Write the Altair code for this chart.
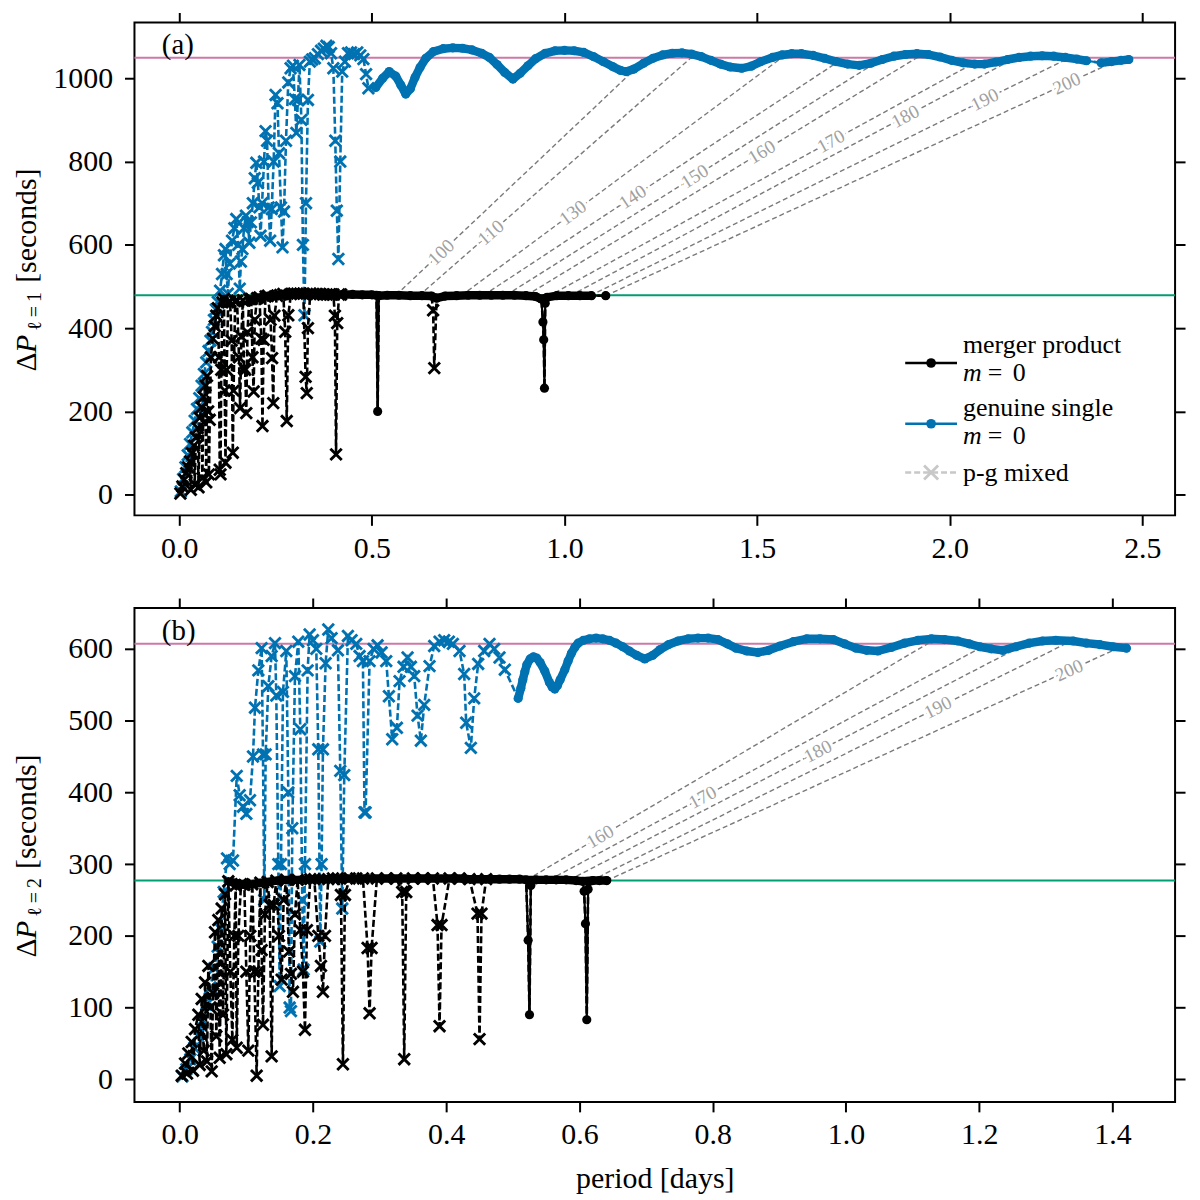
import math

import altair as alt
import pandas as pd

# ---------------- panel (a): l = 1 ----------------
# genuine single star, p-g mixed modes (crosses)
A_BLUE_X_P = [0.004, 0.010, 0.016, 0.022, 0.028, 0.034, 0.040, 0.046, 0.052, 0.058,
              0.064, 0.070, 0.076, 0.081, 0.085, 0.090, 0.095, 0.100, 0.106, 0.111,
              0.116, 0.120, 0.123, 0.126, 0.131, 0.137, 0.143, 0.148, 0.153, 0.157,
              0.160, 0.164, 0.168, 0.173, 0.178, 0.182, 0.186, 0.191, 0.196, 0.200,
              0.204, 0.208, 0.211, 0.215, 0.220, 0.224, 0.228, 0.232, 0.236, 0.240,
              0.245, 0.250, 0.255, 0.259, 0.264, 0.268, 0.272, 0.277, 0.283, 0.289,
              0.295, 0.300, 0.304, 0.308, 0.312, 0.317, 0.321, 0.325, 0.329, 0.334,
              0.339, 0.345, 0.352, 0.360, 0.368, 0.375, 0.382, 0.388, 0.394, 0.400,
              0.405, 0.409, 0.413, 0.418, 0.423, 0.430, 0.438, 0.446, 0.454, 0.462,
              0.470, 0.478, 0.485, 0.491]
A_BLUE_X_DP = [8, 38, 66, 95, 122, 150, 178, 206, 232, 262,
               290, 318, 345, 370, 391, 420, 445, 463, 490, 530,
               575, 590, 530, 483, 555, 610, 640, 662, 600, 495,
               560, 590, 640, 670, 655, 605, 654, 700, 760, 797,
               749, 690, 622, 700, 800, 873, 850, 690, 610, 686,
               800, 960, 940, 820, 690, 594, 680, 850, 990, 1024,
               1030, 950, 869, 948, 1032, 900, 600, 431, 700, 948,
               1040, 1045, 1048, 1058, 1066, 1071, 1078, 1075, 1060, 1024,
               850, 682, 566, 800, 1016, 1040, 1060, 1062, 1058, 1062,
               1055, 1046, 1010, 976]
# genuine single star, g modes (circles)
A_BLUE_G_P = [0.510, 0.528, 0.545, 0.562, 0.575, 0.588, 0.600, 0.612, 0.625, 0.640,
              0.660, 0.685, 0.710, 0.735, 0.760, 0.785, 0.805, 0.825, 0.845, 0.866,
              0.885, 0.905, 0.925, 0.950, 0.975, 1.000, 1.025, 1.050, 1.075, 1.100,
              1.125, 1.145, 1.160, 1.180, 1.205, 1.230, 1.255, 1.280, 1.305, 1.330,
              1.355, 1.380, 1.405, 1.430, 1.460, 1.485, 1.510, 1.540, 1.565, 1.590,
              1.615, 1.645, 1.675, 1.705, 1.735, 1.765, 1.795, 1.825, 1.855, 1.885,
              1.915, 1.945, 1.975, 2.005, 2.035, 2.065, 2.090, 2.120, 2.150, 2.180,
              2.210, 2.240, 2.270, 2.300, 2.330, 2.355, 2.393, 2.420, 2.445, 2.465]
A_BLUE_G_DP = [978, 1000, 1016, 1005, 984, 962, 975, 1002, 1026, 1048,
               1064, 1071, 1073, 1072, 1068, 1060, 1050, 1033, 1014, 998,
               1012, 1030, 1047, 1060, 1066, 1067, 1066, 1062, 1052, 1040,
               1028, 1019, 1016, 1022, 1036, 1048, 1056, 1060, 1061, 1058,
               1052, 1043, 1034, 1027, 1024, 1029, 1040, 1050, 1056, 1059,
               1059, 1055, 1048, 1040, 1034, 1031, 1036, 1045, 1053, 1057,
               1059, 1057, 1051, 1043, 1037, 1034, 1034, 1039, 1045, 1050,
               1053, 1054, 1053, 1050, 1046, 1042, 1037, 1040, 1043, 1045]
# merger product, p-g mixed modes
A_BLACK_X_P = [0.003, 0.008, 0.013, 0.018, 0.023, 0.028, 0.030, 0.033, 0.038, 0.040,
               0.043, 0.048, 0.050, 0.053, 0.058, 0.060, 0.063, 0.068, 0.070, 0.072,
               0.075, 0.077, 0.079, 0.082, 0.087,
               0.092, 0.096, 0.100, 0.103, 0.105, 0.107, 0.109, 0.112, 0.116, 0.118,
               0.120, 0.123, 0.127, 0.132, 0.136, 0.139, 0.141, 0.145, 0.150, 0.155,
               0.158, 0.161, 0.165, 0.168, 0.171, 0.174, 0.177, 0.182, 0.187, 0.190,
               0.193, 0.196, 0.202, 0.208, 0.213, 0.216, 0.219, 0.224, 0.230, 0.237,
               0.241, 0.244, 0.247, 0.254, 0.262, 0.270, 0.275, 0.279, 0.283, 0.290,
               0.298, 0.306, 0.314, 0.322, 0.328, 0.331, 0.334, 0.340, 0.348, 0.356,
               0.365, 0.374, 0.383, 0.392, 0.400, 0.404, 0.407, 0.410, 0.415, 0.420,
               0.659, 0.662]
A_BLACK_X_DP = [3, 20, 36, 52, 66, 80, 12, 100, 118, 25,
                138, 160, 18, 185, 210, 40, 235, 262, 30, 285,
                200, 49, 180, 330, 375,
                405, 430, 448, 330, 60, 49, 300, 462, 470, 250,
                77, 300, 462, 464, 370, 101, 250, 465, 466, 330,
                208, 380, 467, 304, 300, 196, 390, 470, 470, 330,
                248, 420, 472, 474, 375, 165, 372, 476, 478, 420,
                328, 220, 430, 478, 480, 482, 391, 177, 431, 482,
                483, 483, 483, 483, 283, 244, 400, 483, 482, 482,
                482, 481, 481, 481, 481, 430, 97, 412, 481, 481,
                443, 304]
# merger product, g modes
A_BLACK_G_P = [0.425, 0.450, 0.475, 0.500, 0.512, 0.515, 0.518, 0.540, 0.570, 0.600,
               0.630, 0.655, 0.668, 0.690, 0.720, 0.750, 0.780, 0.810, 0.840, 0.870,
               0.900, 0.925, 0.940, 0.944, 0.946, 0.948, 0.950, 0.955, 0.980, 1.010,
               1.040, 1.070, 1.107]
A_BLACK_G_DP = [481, 481, 480, 480, 479, 200, 478, 479, 479, 478,
                478, 477, 472, 477, 478, 479, 479, 479, 479, 479,
                478, 476, 470, 415, 372, 256, 460, 474, 478, 478,
                478, 478, 478]
A_ASYMPTOTE = [1049, 479]
# same radial order n on both stars
A_N = [100, 110, 130, 140, 150, 160, 170, 180, 190, 200]
A_N_P0 = [0.5625, 0.622, 0.732, 0.790, 0.848, 0.900, 0.957, 1.015, 1.067, 1.107]
A_N_DP0 = [479, 478, 478, 479, 479, 478, 476, 478, 478, 478]
A_N_P1 = [1.189, 1.338, 1.575, 1.711, 1.821, 1.930, 2.060, 2.170, 2.310, 2.430]
A_N_DP1 = [1027, 1057, 1057, 1040, 1045, 1058, 1035, 1049, 1049, 1041]
A_N_LABEL_P = [0.680, 0.809, 1.022, 1.177, 1.338, 1.512, 1.692, 1.885, 2.091, 2.304]

# ---------------- panel (b): l = 2 ----------------
B_BLUE_X_P = [0.004, 0.010, 0.016, 0.022, 0.028, 0.034, 0.040, 0.046, 0.052, 0.057,
              0.061, 0.066, 0.071, 0.075, 0.080, 0.0856, 0.090, 0.095, 0.100, 0.1055,
              0.110, 0.113, 0.118, 0.123, 0.125, 0.127, 0.129, 0.133, 0.138, 0.143,
              0.145, 0.148, 0.150, 0.152, 0.155, 0.160, 0.163, 0.165, 0.167, 0.169,
              0.173, 0.178, 0.181, 0.184, 0.186, 0.188, 0.192, 0.195, 0.200, 0.205,
              0.208, 0.211, 0.213, 0.215, 0.219, 0.223, 0.228, 0.2375, 0.241, 0.244,
              0.247, 0.2525, 0.258, 0.265, 0.270, 0.275, 0.2774, 0.279, 0.285, 0.291,
              0.297, 0.303, 0.310, 0.314, 0.319, 0.326, 0.330, 0.336, 0.342, 0.347,
              0.352, 0.357, 0.362, 0.367, 0.375, 0.382, 0.390, 0.397, 0.404, 0.410,
              0.420, 0.427, 0.430, 0.437, 0.442, 0.448, 0.457, 0.465, 0.472, 0.480,
              0.488]
B_BLUE_X_DP = [4, 14, 28, 44, 62, 82, 104, 128, 155, 185,
               210, 261, 308, 300, 305, 423, 396, 380, 370, 389,
               450, 518, 570, 601, 453, 250, 453, 548, 590, 608,
               535, 300, 130, 300, 540, 597, 400, 100, 95, 350,
               562, 610, 488, 250, 153, 300, 570, 620, 612, 600,
               460, 192, 300, 460, 580, 627, 615, 598, 430, 238,
               424, 618, 612, 607, 590, 583, 372, 372, 583, 600,
               605, 595, 583, 534, 474, 490, 555, 575, 588, 575,
               562, 507, 472, 522, 576, 604, 610, 612, 610, 607,
               597, 565, 497, 462, 531, 579, 597, 607, 600, 588,
               571]
B_BLUE_G_P = [0.508, 0.512, 0.515, 0.518, 0.521, 0.526, 0.531, 0.536, 0.541, 0.548,
              0.555, 0.559, 0.563, 0.567, 0.571, 0.578, 0.583, 0.588, 0.593, 0.598,
              0.606, 0.615, 0.625, 0.635, 0.645, 0.655, 0.665, 0.675, 0.686, 0.698,
              0.710, 0.721, 0.734, 0.748, 0.763, 0.778, 0.793, 0.808, 0.822, 0.835,
              0.851, 0.868, 0.884, 0.901, 0.921, 0.941, 0.961, 0.981, 0.998, 1.015,
              1.031, 1.048, 1.068, 1.088, 1.108, 1.128, 1.148, 1.168, 1.185, 1.201,
              1.218, 1.235, 1.255, 1.275, 1.295, 1.315, 1.341, 1.361, 1.381, 1.401,
              1.421]
B_BLUE_G_DP = [531, 545, 557, 568, 578, 586, 589, 587, 581, 569,
               553, 547, 544, 549, 557, 571, 583, 594, 602, 608,
               612, 614, 615, 614, 612, 608, 603, 597, 591, 586,
               591, 599, 606, 611, 614, 615, 615, 613, 607, 601,
               597, 595, 598, 604, 610, 614, 614, 613, 607, 601,
               598, 597, 602, 608, 612, 614, 613, 611, 607, 603,
               600, 598, 603, 608, 611, 612, 611, 608, 606, 603,
               601]
B_BLACK_X_P = [0.003, 0.008, 0.011, 0.013, 0.018, 0.020, 0.023, 0.028, 0.030, 0.033,
               0.036, 0.038, 0.041, 0.043, 0.046,
               0.048, 0.050, 0.053, 0.055, 0.058, 0.060, 0.063, 0.065, 0.068, 0.070,
               0.073, 0.076, 0.079, 0.082,
               0.084, 0.0856, 0.088, 0.092, 0.097, 0.100, 0.103, 0.106, 0.109, 0.112,
               0.1155, 0.118, 0.121, 0.123, 0.125, 0.128, 0.132, 0.135, 0.138, 0.141,
               0.145, 0.149, 0.153, 0.156, 0.160, 0.164, 0.167, 0.170, 0.173, 0.177,
               0.181, 0.185, 0.188, 0.191, 0.196, 0.202, 0.208, 0.212, 0.215, 0.218,
               0.223, 0.230, 0.237, 0.242, 0.245, 0.248, 0.255, 0.265, 0.275, 0.282,
               0.285, 0.288, 0.296, 0.310, 0.325, 0.334, 0.337, 0.340, 0.350, 0.365,
               0.380, 0.387, 0.390, 0.393, 0.405, 0.420, 0.435, 0.447, 0.450, 0.453,
               0.460]
B_BLACK_X_DP = [5, 22, 8, 36, 52, 12, 70, 90, 20, 112,
                40, 135, 25, 158, 100,
                11, 120, 205, 60, 222, 30, 238, 90, 258, 35,
                276, 150, 55, 200,
                270, 44, 200, 272, 271, 150, 40, 200, 272, 150,
                5, 150, 274, 180, 76, 230, 275, 243, 32, 243,
                277, 200, 139, 250, 278, 178, 147, 122, 230, 278,
                208, 150, 69, 208, 279, 279, 200, 158, 122, 200,
                279, 280, 280, 257, 21, 257, 280, 280, 280, 183,
                92, 183, 280, 280, 280, 261, 28, 261, 280, 280,
                280, 215, 74, 215, 280, 280, 279, 231, 56, 231,
                279]
B_BLACK_G_P = [0.465, 0.480, 0.495, 0.510, 0.520, 0.523, 0.525, 0.527, 0.535, 0.550,
               0.565, 0.580, 0.595, 0.605, 0.607, 0.609, 0.611, 0.613, 0.620, 0.630,
               0.641]
B_BLACK_G_DP = [279, 279, 279, 279, 278, 194, 90, 270, 278, 278,
                278, 278, 277, 276, 262, 217, 83, 265, 277, 277,
                277]
B_ASYMPTOTE = [607, 277]
B_N = [160, 170, 180, 190, 200]
B_N_P0 = [0.521, 0.555, 0.585, 0.618, 0.641]
B_N_DP0 = [278, 278, 278, 277, 277]
B_N_P1 = [1.135, 1.205, 1.268, 1.338, 1.411]
B_N_DP1 = [614, 603, 606, 611, 602]
B_N_LABEL_P = [0.631, 0.785, 0.958, 1.138, 1.335]

BLUE = "#0072B2"
BLACK = "#000000"
PINK = "#CC79A7"
GREEN = "#009E73"
FONT = "Liberation Serif"
XSHAPE = "M-1,-1L1,1M-1,1L1,-1"
ONE = pd.DataFrame({"k": [0]})
W = 1045


def txt(s, x, y, size=30, style="normal", angle=0, color="black"):
    return alt.Chart(ONE).mark_text(
        text=s, font=FONT, fontSize=size, fontStyle=style, angle=angle,
        align="left", baseline="alphabetic", color=color,
    ).encode(x=alt.value(x), y=alt.value(y))


def series(gp, gdp, xp, xdp, band_min, gap, band_all, color, X, Y):
    g = pd.DataFrame({"p": gp, "dp": gdp}).sort_values("p").reset_index(drop=True)
    x = pd.DataFrame({"p": xp, "dp": xdp})
    full = pd.concat([g, x]).sort_values("p").reset_index(drop=True)
    full["i"] = range(len(full))
    g["i"] = range(len(g))
    src = full if band_all else g
    band = src[src["dp"] >= band_min].copy()
    band["seg"] = (band["p"].diff() > gap).cumsum()
    mixed = [
        alt.Chart(full).mark_line(color=color, strokeWidth=2.6, strokeDash=[7, 3])
        .encode(X, Y, order="i:Q"),
        alt.Chart(x).mark_point(shape=XSHAPE, filled=False, color=color,
                                strokeWidth=2.9, size=130, opacity=1).encode(X, Y),
    ]
    modes = [
        alt.Chart(band).mark_line(color=color, strokeWidth=8.5, strokeCap="round",
                                  strokeJoin="round")
        .encode(X, Y, detail="seg:N", order="i:Q"),
        alt.Chart(g).mark_line(color=color, strokeWidth=2.2).encode(X, Y, order="i:Q"),
        alt.Chart(g).mark_point(shape="circle", filled=True, color=color,
                                size=85, opacity=1).encode(X, Y),
    ]
    return mixed, modes


def panel(tag, ell, xdom, ydom, h, xticks, yticks, xfmt, asym,
          blue, black, nlines, xtitle, legend):
    sx = alt.Scale(domain=xdom, nice=False, zero=False)
    sy = alt.Scale(domain=ydom, nice=False, zero=False)
    X = alt.X("p:Q", scale=sx, axis=None)
    Y = alt.Y("dp:Q", scale=sy, axis=None)

    hl = alt.Chart(pd.DataFrame({"v": asym, "c": [PINK, GREEN]})).mark_rule(
        strokeWidth=2).encode(y=alt.Y("v:Q", scale=sy, axis=None),
                              color=alt.Color("c:N", scale=None))

    n, p0, dp0, p1, dp1, lp = nlines
    kx = W / (xdom[1] - xdom[0])
    ky = h / (ydom[1] - ydom[0])
    rows = []
    for k in range(len(n)):
        f = (lp[k] - p0[k]) / (p1[k] - p0[k])
        ang = math.degrees(math.atan2((dp1[k] - dp0[k]) * ky, (p1[k] - p0[k]) * kx))
        rows.append({"p0": p0[k], "dp0": dp0[k], "p1": p1[k], "dp1": dp1[k],
                     "lp": lp[k], "ldp": dp0[k] + f * (dp1[k] - dp0[k]),
                     "t": str(n[k]), "ang": 360 - ang})
    ndf = pd.DataFrame(rows)
    glines = alt.Chart(ndf).mark_rule(color="#7a7a7a", strokeWidth=1.4,
                                      strokeDash=[5, 3]).encode(
        x=alt.X("p0:Q", scale=sx, axis=None), y=alt.Y("dp0:Q", scale=sy, axis=None),
        x2="p1:Q", y2="dp1:Q")
    lx = alt.X("lp:Q", scale=sx, axis=None)
    ly = alt.Y("ldp:Q", scale=sy, axis=None)
    halo = alt.Chart(ndf).mark_text(font=FONT, fontSize=19, color="white", stroke="white",
                                    strokeWidth=6).encode(
        lx, ly, text="t:N", angle=alt.Angle("ang:Q", scale=None))
    ltxt = alt.Chart(ndf).mark_text(font=FONT, fontSize=19, color="#a0a0a0").encode(
        lx, ly, text="t:N", angle=alt.Angle("ang:Q", scale=None))

    bm, bg = series(*blue, BLUE, X, Y)
    km, kg = series(*black, BLACK, X, Y)

    axis_df = pd.DataFrame({"p": [xdom[0]], "dp": [ydom[0]]})
    xaxis = dict(values=xticks, format=xfmt, tickSize=10, tickWidth=2, tickColor="black",
                 labelFont=FONT, labelFontSize=30, labelColor="black", labelPadding=8,
                 labelFlush=False, labelOverlap=False, domain=False, grid=False)
    if xtitle:
        xaxis.update(title=xtitle, titleFont=FONT, titleFontSize=30,
                     titleFontWeight="normal", titleColor="black", titleY=86,
                     titleBaseline="alphabetic")
    else:
        xaxis.update(title=None)
    ax1 = alt.Chart(axis_df).mark_point(opacity=0).encode(
        x=alt.X("p:Q", scale=sx, axis=alt.Axis(orient="bottom", **xaxis)),
        y=alt.Y("dp:Q", scale=sy, axis=alt.Axis(
            orient="left", values=yticks, format="d", tickSize=10, tickWidth=2,
            tickColor="black", labelFont=FONT, labelFontSize=30, labelColor="black",
            labelPadding=12, labelOverlap=False, domain=False, grid=False, title=None)))
    ax2 = alt.Chart(axis_df).mark_point(opacity=0).encode(
        x=alt.X("p:Q", scale=sx, axis=alt.Axis(
            orient="top", values=xticks, labels=False, tickSize=10, tickWidth=2,
            tickColor="black", domain=False, grid=False, title=None)),
        y=alt.Y("dp:Q", scale=sy, axis=alt.Axis(
            orient="right", values=yticks, labels=False, tickSize=10, tickWidth=2,
            tickColor="black", domain=False, grid=False, title=None)))

    c = h / 2
    texts = [
        txt(tag, 27.5, 32, 29),
        txt("\u0394", -98.7, c + 103, 30, angle=270),
        txt("P", -98.7, c + 84.5, 30, style="italic", angle=270),
        txt("\u2113\u2009=\u2009" + ell, -94, c + 62, 20, angle=270),
        txt("[seconds]", -98.7, c + 14, 30, angle=270),
    ]

    layers = [hl, glines] + bm + km + bg + kg + [halo, ltxt, ax1, ax2] + texts + legend
    return alt.layer(*layers).properties(width=W, height=h).resolve_axis(
        x="independent", y="independent")


def legend_items():
    items = []
    rows = [(342, BLACK, "merger product", 332, 360),
            (403, BLUE, "genuine single", 395, 423)]
    for y, col, label, b1, b2 in rows:
        items.append(alt.Chart(ONE).mark_rule(color=col, strokeWidth=2.6).encode(
            x=alt.value(774), x2=alt.value(826), y=alt.value(y)))
        items.append(alt.Chart(ONE).mark_point(shape="circle", filled=True, color=col,
                                               size=95, opacity=1).encode(
            x=alt.value(800), y=alt.value(y)))
        items.append(txt(label, 832, b1, 26))
        items.append(txt("m", 832, b2, 26, style="italic"))
        items.append(txt("=", 857, b2, 26))
        items.append(txt("0", 882, b2, 26))
    items.append(alt.Chart(ONE).mark_rule(color="#c8c8c8", strokeWidth=2.4,
                                          strokeDash=[6, 3]).encode(
        x=alt.value(774), x2=alt.value(826), y=alt.value(452)))
    items.append(alt.Chart(ONE).mark_point(shape=XSHAPE, filled=False, color="#c8c8c8",
                                           strokeWidth=2.8, size=200, opacity=1).encode(
        x=alt.value(800), y=alt.value(452)))
    items.append(txt("p-g mixed", 832, 460, 26))
    return items


pa = panel(
    "(a)", "1", [-0.1163, 2.585], [-49.5, 1134], 495,
    [0.0, 0.5, 1.0, 1.5, 2.0, 2.5], [0, 200, 400, 600, 800, 1000], ".1f", A_ASYMPTOTE,
    (A_BLUE_G_P, A_BLUE_G_DP, A_BLUE_X_P, A_BLUE_X_DP, 900, 0.035, False),
    (A_BLACK_G_P, A_BLACK_G_DP, A_BLACK_X_P, A_BLACK_X_DP, 470, 0.035, True),
    (A_N, A_N_P0, A_N_DP0, A_N_P1, A_N_DP1, A_N_LABEL_P),
    None, legend_items(),
)
pb = panel(
    "(b)", "2", [-0.0679, 1.494], [-31.5, 657], 496,
    [0.0, 0.2, 0.4, 0.6, 0.8, 1.0, 1.2, 1.4], [0, 100, 200, 300, 400, 500, 600], ".1f",
    B_ASYMPTOTE,
    (B_BLUE_G_P, B_BLUE_G_DP, B_BLUE_X_P, B_BLUE_X_DP, 500, 0.05, False),
    (B_BLACK_G_P, B_BLACK_G_DP, B_BLACK_X_P, B_BLACK_X_DP, 271, 0.05, True),
    (B_N, B_N_P0, B_N_DP0, B_N_P1, B_N_DP1, B_N_LABEL_P),
    "period [days]", [],
)

chart = alt.vconcat(pa, pb, spacing=32).properties(
    padding={"left": 3, "top": 0, "right": 5, "bottom": 5}
).configure_view(stroke="black", strokeWidth=2)

chart.save("out.html", embed_options={"renderer": "svg", "actions": False})
